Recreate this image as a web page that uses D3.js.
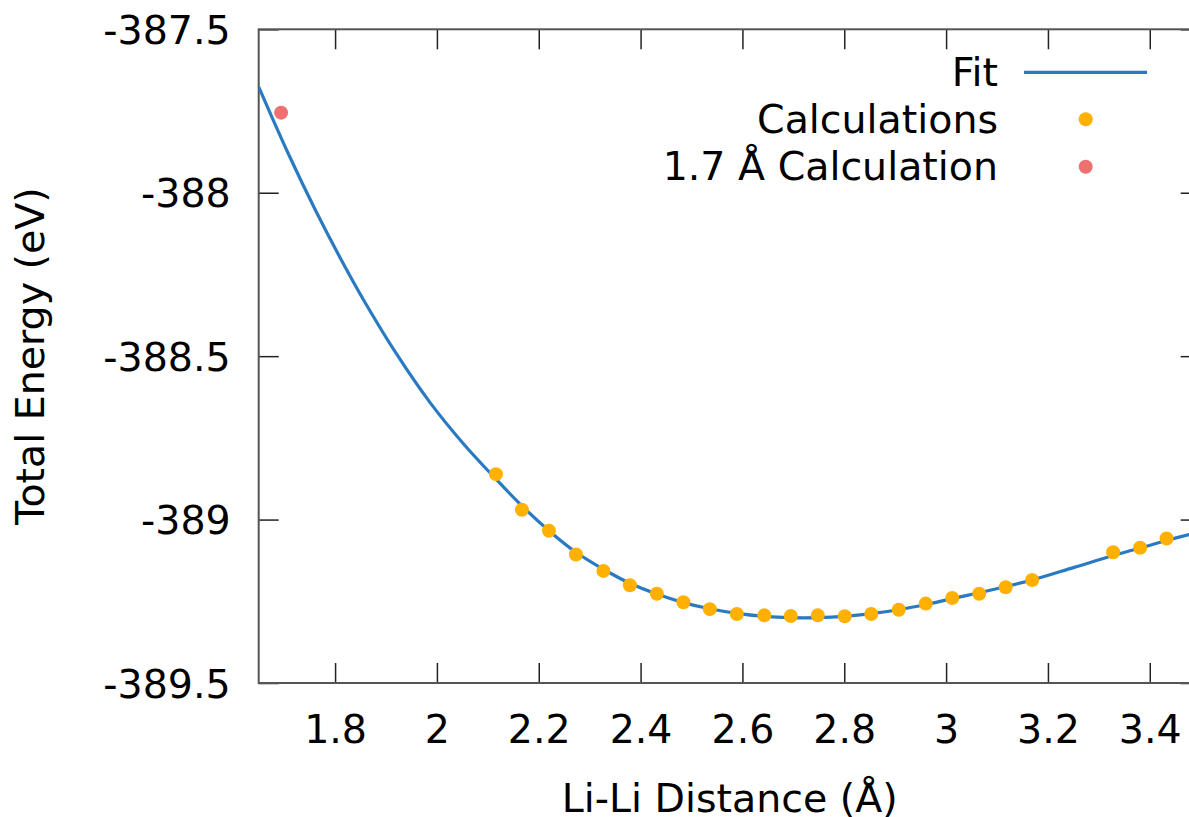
<!DOCTYPE html>
<html>
<head>
<meta charset="utf-8">
<title>Li-Li Distance vs Total Energy</title>
<script src="https://d3js.org/d3.v7.min.js"></script>
<style>
  body { margin: 0; background: #fff; }
  svg text { font-family: "DejaVu Sans", sans-serif; fill: #000; }
</style>
</head>
<body>
<div class="chart"></div>
<script>
  // calculated points (Li-Li distance in Å, total energy in eV)
  const calcX = [2.116, 2.167, 2.220, 2.273, 2.327, 2.379, 2.432, 2.484, 2.536, 2.589,
                 2.643, 2.695, 2.748, 2.801, 2.853, 2.907, 2.960, 3.012, 3.065, 3.117,
                 3.169, 3.328, 3.381, 3.433];
  const calcE = [-388.861, -388.970, -389.034, -389.107, -389.157, -389.201, -389.227, -389.253,
                 -389.274, -389.289, -389.293, -389.295, -389.293, -389.296, -389.289, -389.276,
                 -389.257, -389.240, -389.227, -389.207, -389.185, -389.100, -389.086, -389.058];

  // the separate 1.7 Å run
  const oddX = [1.694];
  const oddE = [-387.755];

  // fit curve
  const fitX = [1.650, 1.708, 1.761, 1.812, 1.856, 1.921, 1.987, 2.052, 2.111, 2.167,
                2.220, 2.273, 2.327, 2.379, 2.432, 2.484, 2.536, 2.589, 2.643, 2.695,
                2.748, 2.801, 2.853, 2.907, 2.960, 3.012, 3.065, 3.117, 3.169, 3.250,
                3.328, 3.381, 3.433, 3.477, 3.500];
  const fitE = [-387.676, -387.880, -388.052, -388.205, -388.328, -388.494, -388.643, -388.768,
                -388.868, -388.958, -389.034, -389.100, -389.152, -389.195, -389.228, -389.254,
                -389.273, -389.287, -389.296, -389.300, -389.300, -389.296, -389.288, -389.276,
                -389.260, -389.242, -389.224, -389.205, -389.185, -389.147, -389.110, -389.087,
                -389.064, -389.046, -389.037];

  const xTicks = [1.8, 2, 2.2, 2.4, 2.6, 2.8, 3, 3.2, 3.4];
  const yTicks = [-387.5, -388, -388.5, -389, -389.5];

  const legendLabels = ['Fit', 'Calculations', '1.7 Å Calculation'];

  const W = 1189, H = 817;
  const pLeft = 258.7, pTop = 29.3, pRight = 1200.7, pBottom = 683;
  const fs = 39.5;

  const svg = d3.select('.chart')
    .append('svg')
    .attr('width', W)
    .attr('height', H);

  const x = d3.scaleLinear().domain([1.65, 3.5]).range([pLeft, pRight]);
  const y = d3.scaleLinear().domain([-389.5, -387.5]).range([pBottom, pTop]);

  // axes, ticks pointing inwards like gnuplot
  const gx = svg.append('g')
    .attr('transform', `translate(0,${pBottom})`)
    .call(d3.axisBottom(x).tickValues(xTicks).tickFormat(d => String(d)).tickSize(-20).tickSizeOuter(0));
  gx.selectAll('text').attr('y', 60).attr('dy', null).style('font-size', fs + 'px');

  const gy = svg.append('g')
    .attr('transform', `translate(${pLeft},0)`)
    .call(d3.axisLeft(y).tickValues(yTicks).tickFormat(d => String(d)).tickSize(-20).tickSizeOuter(0));
  gy.selectAll('text').attr('x', -28).attr('dy', '14px').style('font-size', fs + 'px');

  svg.append('g')
    .attr('transform', `translate(0,${pTop})`)
    .call(d3.axisTop(x).tickValues(xTicks).tickFormat('').tickSize(-20).tickSizeOuter(0));
  svg.append('g')
    .attr('transform', `translate(${pRight},0)`)
    .call(d3.axisRight(y).tickValues(yTicks).tickFormat('').tickSize(-20).tickSizeOuter(0));

  svg.selectAll('.domain').remove();
  svg.selectAll('.tick line').attr('stroke', '#222').attr('stroke-width', 1.5);

  svg.append('rect')
    .attr('x', pLeft).attr('y', pTop)
    .attr('width', pRight - pLeft).attr('height', pBottom - pTop)
    .attr('fill', 'none')
    .attr('stroke', '#555')
    .attr('stroke-width', 2);

  // clip to plot area
  svg.append('clipPath').attr('id', 'plot')
    .append('rect')
    .attr('x', pLeft).attr('y', pTop)
    .attr('width', pRight - pLeft).attr('height', pBottom - pTop);

  const plot = svg.append('g').attr('clip-path', 'url(#plot)');

  const fitData = fitX.map((v, i) => [v, fitE[i]]);
  plot.append('path')
    .datum(fitData)
    .attr('fill', 'none')
    .attr('stroke', '#2a7ac2')
    .attr('stroke-width', 3.2)
    .attr('d', d3.line().x(d => x(d[0])).y(d => y(d[1])).curve(d3.curveCatmullRom));

  plot.selectAll('circle.calc')
    .data(calcX.map((v, i) => [v, calcE[i]]))
    .enter()
    .append('circle')
    .attr('class', 'calc')
    .attr('cx', d => x(d[0]))
    .attr('cy', d => y(d[1]))
    .attr('r', 7)
    .attr('fill', '#ffb000');

  plot.selectAll('circle.odd')
    .data(oddX.map((v, i) => [v, oddE[i]]))
    .enter()
    .append('circle')
    .attr('class', 'odd')
    .attr('cx', d => x(d[0]))
    .attr('cy', d => y(d[1]))
    .attr('r', 7)
    .attr('fill', '#ee7070');

  // legend
  const leg = svg.append('g');
  const rowY = [72.3, 119.3, 166.7];
  legendLabels.forEach(function(lab, i) {
    leg.append('text')
      .attr('x', 998)
      .attr('y', rowY[i] + 13.5)
      .attr('text-anchor', 'end')
      .style('font-size', fs + 'px')
      .text(lab);
  });
  leg.append('line')
    .attr('x1', 1024).attr('x2', 1147)
    .attr('y1', rowY[0]).attr('y2', rowY[0])
    .attr('stroke', '#2a7ac2').attr('stroke-width', 3.2);
  leg.append('circle').attr('cx', 1085.7).attr('cy', rowY[1]).attr('r', 7).attr('fill', '#ffb000');
  leg.append('circle').attr('cx', 1085.7).attr('cy', rowY[2]).attr('r', 7).attr('fill', '#ee7070');

  // axis titles
  svg.append('text')
    .attr('x', (pLeft + pRight) / 2)
    .attr('y', 812)
    .attr('text-anchor', 'middle')
    .style('font-size', fs + 'px')
    .text('Li-Li Distance (Å)');

  svg.append('text')
    .attr('transform', `translate(43.5,${(pTop + pBottom) / 2}) rotate(-90)`)
    .attr('text-anchor', 'middle')
    .style('font-size', fs + 'px')
    .text('Total Energy (eV)');
</script>
</body>
</html>
